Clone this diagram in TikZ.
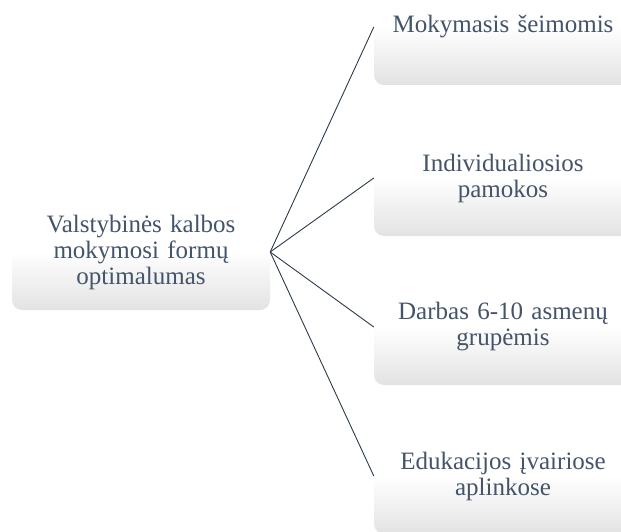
\documentclass[tikz,border=0pt]{standalone}
\usepackage{fontspec}
\setmainfont{Liberation Serif}
\definecolor{txt}{HTML}{44546A}
\definecolor{ln}{HTML}{2B3A4C}
\definecolor{boxlow}{HTML}{E2E2E2}
\pgfdeclareverticalshading{boxshade}{100bp}{color(0bp)=(boxlow); color(25bp)=(boxlow); color(50bp)=(white); color(75bp)=(white); color(100bp)=(white)}
\tikzset{
  box/.style={rectangle, rounded corners=10pt, shading=boxshade, minimum width=258pt, minimum height=116pt,
    text width=252pt, align=center, text=txt, inner sep=0pt,
    font=\fontsize{25}{26}\selectfont},
  conn/.style={draw=ln, line width=0.9pt}
}
\begin{document}
\begin{tikzpicture}[x=1pt,y=1pt]
\useasboundingbox (0,0) rectangle (621,531);
\clip (0,0) rectangle (621,531);
\node[box] (root) at (141,279) {Valstybinės kalbos\\mokymosi formų\\optimalumas};
\node[box] (a) at (503,504) {Mokymasis šeimomis};
\node[box] (b) at (503,353) {Individualiosios\\pamokos};
\node[box] (c) at (503,204) {Darbas 6-10 asmenų\\grupėmis};
\node[box] (d) at (503,55) {Edukacijos įvairiose\\aplinkose};
\foreach \t in {a,b,c,d}{\draw[conn] (root.east) -- (\t.west);}
\end{tikzpicture}
\end{document}
